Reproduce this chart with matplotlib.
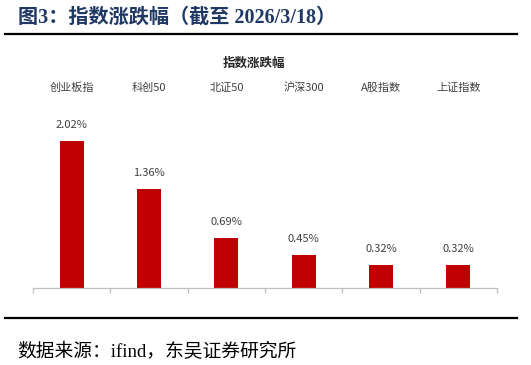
import matplotlib.pyplot as plt
import matplotlib.transforms as mtransforms
from matplotlib.lines import Line2D

categories = ['创业板指', '科创50', '北证50', '沪深300', 'A股指数', '上证指数']
changes = [2.02, 1.36, 0.69, 0.45, 0.32, 0.32]

W, H = 531, 365
fig = plt.figure(figsize=(W / 100, H / 100), dpi=100)

sans = ['Noto Sans CJK SC', 'DejaVu Sans']
serif = ['Liberation Serif', 'Noto Sans CJK SC']

# header and footer
fig.text(18 / W, 1 - 18 / H, '图3：指数涨跌幅（截至 2026/3/18）', family=serif,
         fontsize=14.5, fontweight='bold', color='#1F3864', va='center', ha='left')
fig.add_artist(Line2D([5 / W, 517 / W], [1 - 34 / H] * 2, color='black', lw=1.6))
fig.add_artist(Line2D([5 / W, 517 / W], [1 - 318 / H] * 2, color='black', lw=1.6))
fig.text(17 / W, 1 - 352 / H, '数据来源：ifind，东吴证券研究所', family=serif,
         fontsize=13.5, color='black', va='center', ha='left')

# chart area
left, right, bottom, top = 33, 497, 288, 100
ax = fig.add_axes([left / W, 1 - bottom / H, (right - left) / W, (bottom - top) / H])
x = range(len(categories))
ax.bar(x, changes, width=0.31, color='#C00000', zorder=2)
ax.set_xlim(-0.5, len(categories) - 0.5)
ax.set_ylim(0, (bottom - top) / 72.8)

for s in ['top', 'right', 'left']:
    ax.spines[s].set_visible(False)
ax.spines['bottom'].set_color('#BFBFBF')
ax.spines['bottom'].set_linewidth(0.9)
ax.set_yticks([])
ax.set_xticks([i - 0.5 for i in range(len(categories) + 1)])
ax.set_xticklabels([])
ax.tick_params(axis='x', direction='out', length=3.5, width=0.9, color='#BFBFBF')

for i, v in enumerate(changes):
    ax.annotate(f'{v:.2f}%', (i, v), xytext=(0, 8), textcoords='offset points',
                ha='center', va='bottom', fontsize=8, family=sans, color='#404040')

trans = mtransforms.blended_transform_factory(ax.transData, ax.transAxes)
for i, c in enumerate(categories):
    ax.text(i, 1 + 12 / (bottom - top), c, transform=trans, ha='center', va='center',
            fontsize=8, family=sans, color='#404040')

fig.text(254 / W, 1 - 63 / H, '指数涨跌幅', family=sans, fontsize=9,
         fontweight='bold', color='#262626', ha='center', va='center')

fig.savefig('out.png', dpi=100)
